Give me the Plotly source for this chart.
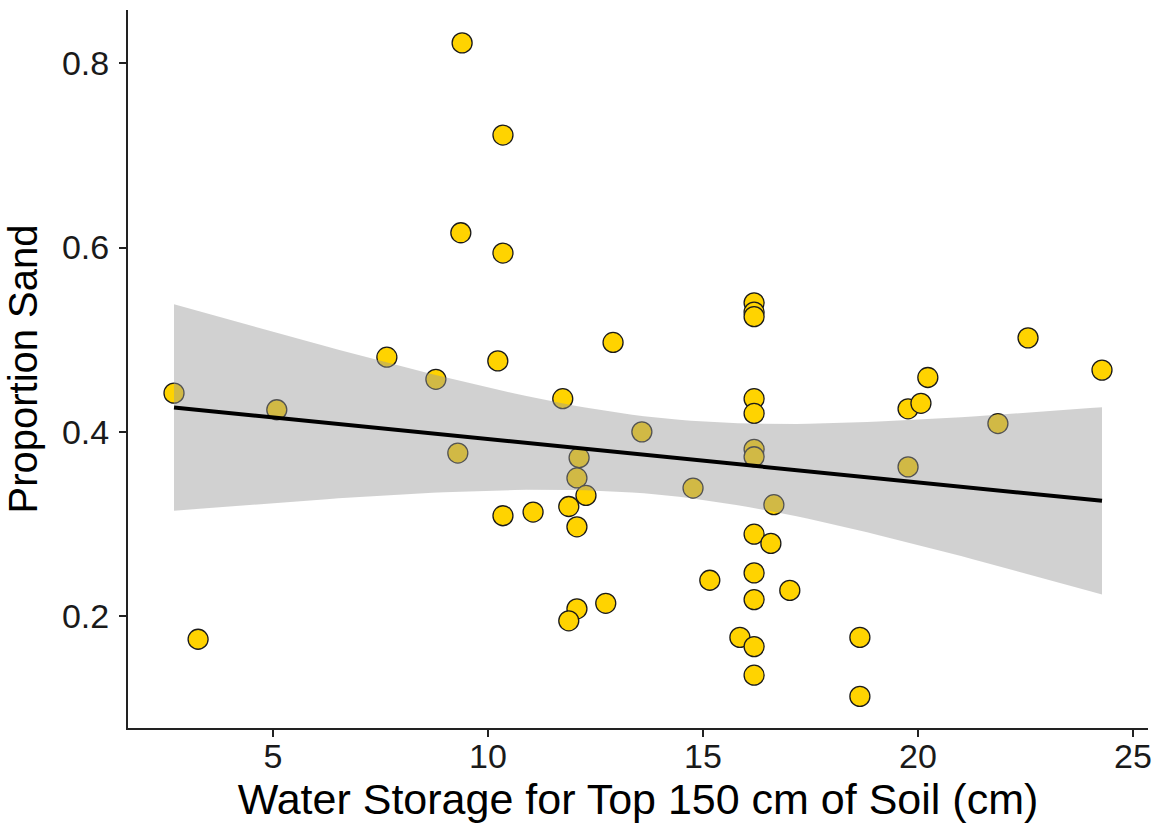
import numpy as np
import plotly.graph_objects as go

# Data
water_storage_cm = [2.70, 3.26, 5.09, 7.65, 8.79, 9.30, 9.40, 9.37, 10.35, 10.35,
                    10.23, 10.35, 11.05, 11.74, 12.91, 12.12, 12.07, 12.28, 11.88, 12.07,
                    12.07, 11.88, 12.74, 13.58, 14.77, 15.16, 15.86, 16.19, 16.19, 16.19,
                    16.19, 16.19, 16.19, 16.19, 16.19, 16.19, 16.19, 16.19, 16.19, 16.58,
                    16.65, 17.02, 18.65, 18.65, 19.77, 20.07, 20.23, 21.86, 19.77, 22.56,
                    24.28]
proportion_sand = [0.442, 0.175, 0.424, 0.481, 0.457, 0.377, 0.822, 0.616, 0.722, 0.594,
                   0.477, 0.309, 0.313, 0.436, 0.497, 0.372, 0.350, 0.331, 0.319, 0.297,
                   0.208, 0.195, 0.214, 0.400, 0.339, 0.239, 0.177, 0.167, 0.136, 0.540,
                   0.530, 0.525, 0.436, 0.420, 0.381, 0.373, 0.289, 0.247, 0.218, 0.279,
                   0.321, 0.228, 0.177, 0.113, 0.425, 0.431, 0.459, 0.409, 0.362, 0.502,
                   0.467]
x_ticks = [5, 10, 15, 20, 25]
y_ticks = [0.2, 0.4, 0.6, 0.8]
x_title = "Water Storage for Top 150 cm of Soil (cm)"
y_title = "Proportion Sand"

# Linear fit with 95% confidence band (like geom_smooth(method="lm"))
x = np.array(water_storage_cm)
y = np.array(proportion_sand)
n = len(x)
slope, intercept = np.polyfit(x, y, 1)
resid = y - (intercept + slope * x)
s = np.sqrt(np.sum(resid ** 2) / (n - 2))
t_crit = 2.01
xs = np.linspace(x.min(), x.max(), 80)
fit = intercept + slope * xs
se = s * np.sqrt(1.0 / n + (xs - x.mean()) ** 2 / np.sum((x - x.mean()) ** 2))
lower = fit - t_crit * se
upper = fit + t_crit * se

fig = go.Figure()
fig.add_trace(go.Scatter(
    x=water_storage_cm, y=proportion_sand, mode="markers",
    marker=dict(size=20, color="#FFD300", line=dict(color="#1a1a1a", width=1.3)),
    showlegend=False, hoverinfo="x+y"))
fig.add_trace(go.Scatter(x=xs, y=lower, mode="lines", line=dict(width=0),
                         showlegend=False, hoverinfo="skip"))
fig.add_trace(go.Scatter(x=xs, y=upper, mode="lines", line=dict(width=0),
                         fill="tonexty", fillcolor="rgba(153,153,153,0.45)",
                         showlegend=False, hoverinfo="skip"))
fig.add_trace(go.Scatter(x=xs, y=fit, mode="lines", line=dict(color="black", width=4),
                         showlegend=False))

font_family = "Liberation Sans, Arial, Helvetica, sans-serif"
fig.update_layout(
    width=1160, height=828,
    margin=dict(l=128, r=12, t=10, b=100, autoexpand=False),
    plot_bgcolor="white", paper_bgcolor="white",
    font=dict(family=font_family, color="black"),
)
fig.update_xaxes(
    range=[1.63, 25.35], tickvals=x_ticks, ticktext=[str(v) for v in x_ticks],
    showgrid=False, zeroline=False, showline=True, linecolor="#222", linewidth=2,
    ticks="outside", ticklen=7, tickwidth=1.5, tickcolor="#222",
    tickfont=dict(size=34, color="#1a1a1a"), automargin=False, ticklabelstandoff=-10,
    title=dict(text=x_title, font=dict(size=43, color="black"), standoff=0),
)
fig.update_yaxes(
    range=[0.0787, 0.8577], tickvals=y_ticks, ticktext=[f"{v:.1f}" for v in y_ticks],
    showgrid=False, zeroline=False, showline=True, linecolor="#222", linewidth=2,
    ticks="outside", ticklen=7, tickwidth=1.5, tickcolor="#222",
    tickfont=dict(size=34, color="#1a1a1a"), automargin=False, ticklabelstandoff=3,
    title=dict(text=y_title, font=dict(size=40, color="black"), standoff=12),
)
fig.write_html("out.html", config={"displayModeBar": False},
               post_script="document.body.style.margin='0';")
